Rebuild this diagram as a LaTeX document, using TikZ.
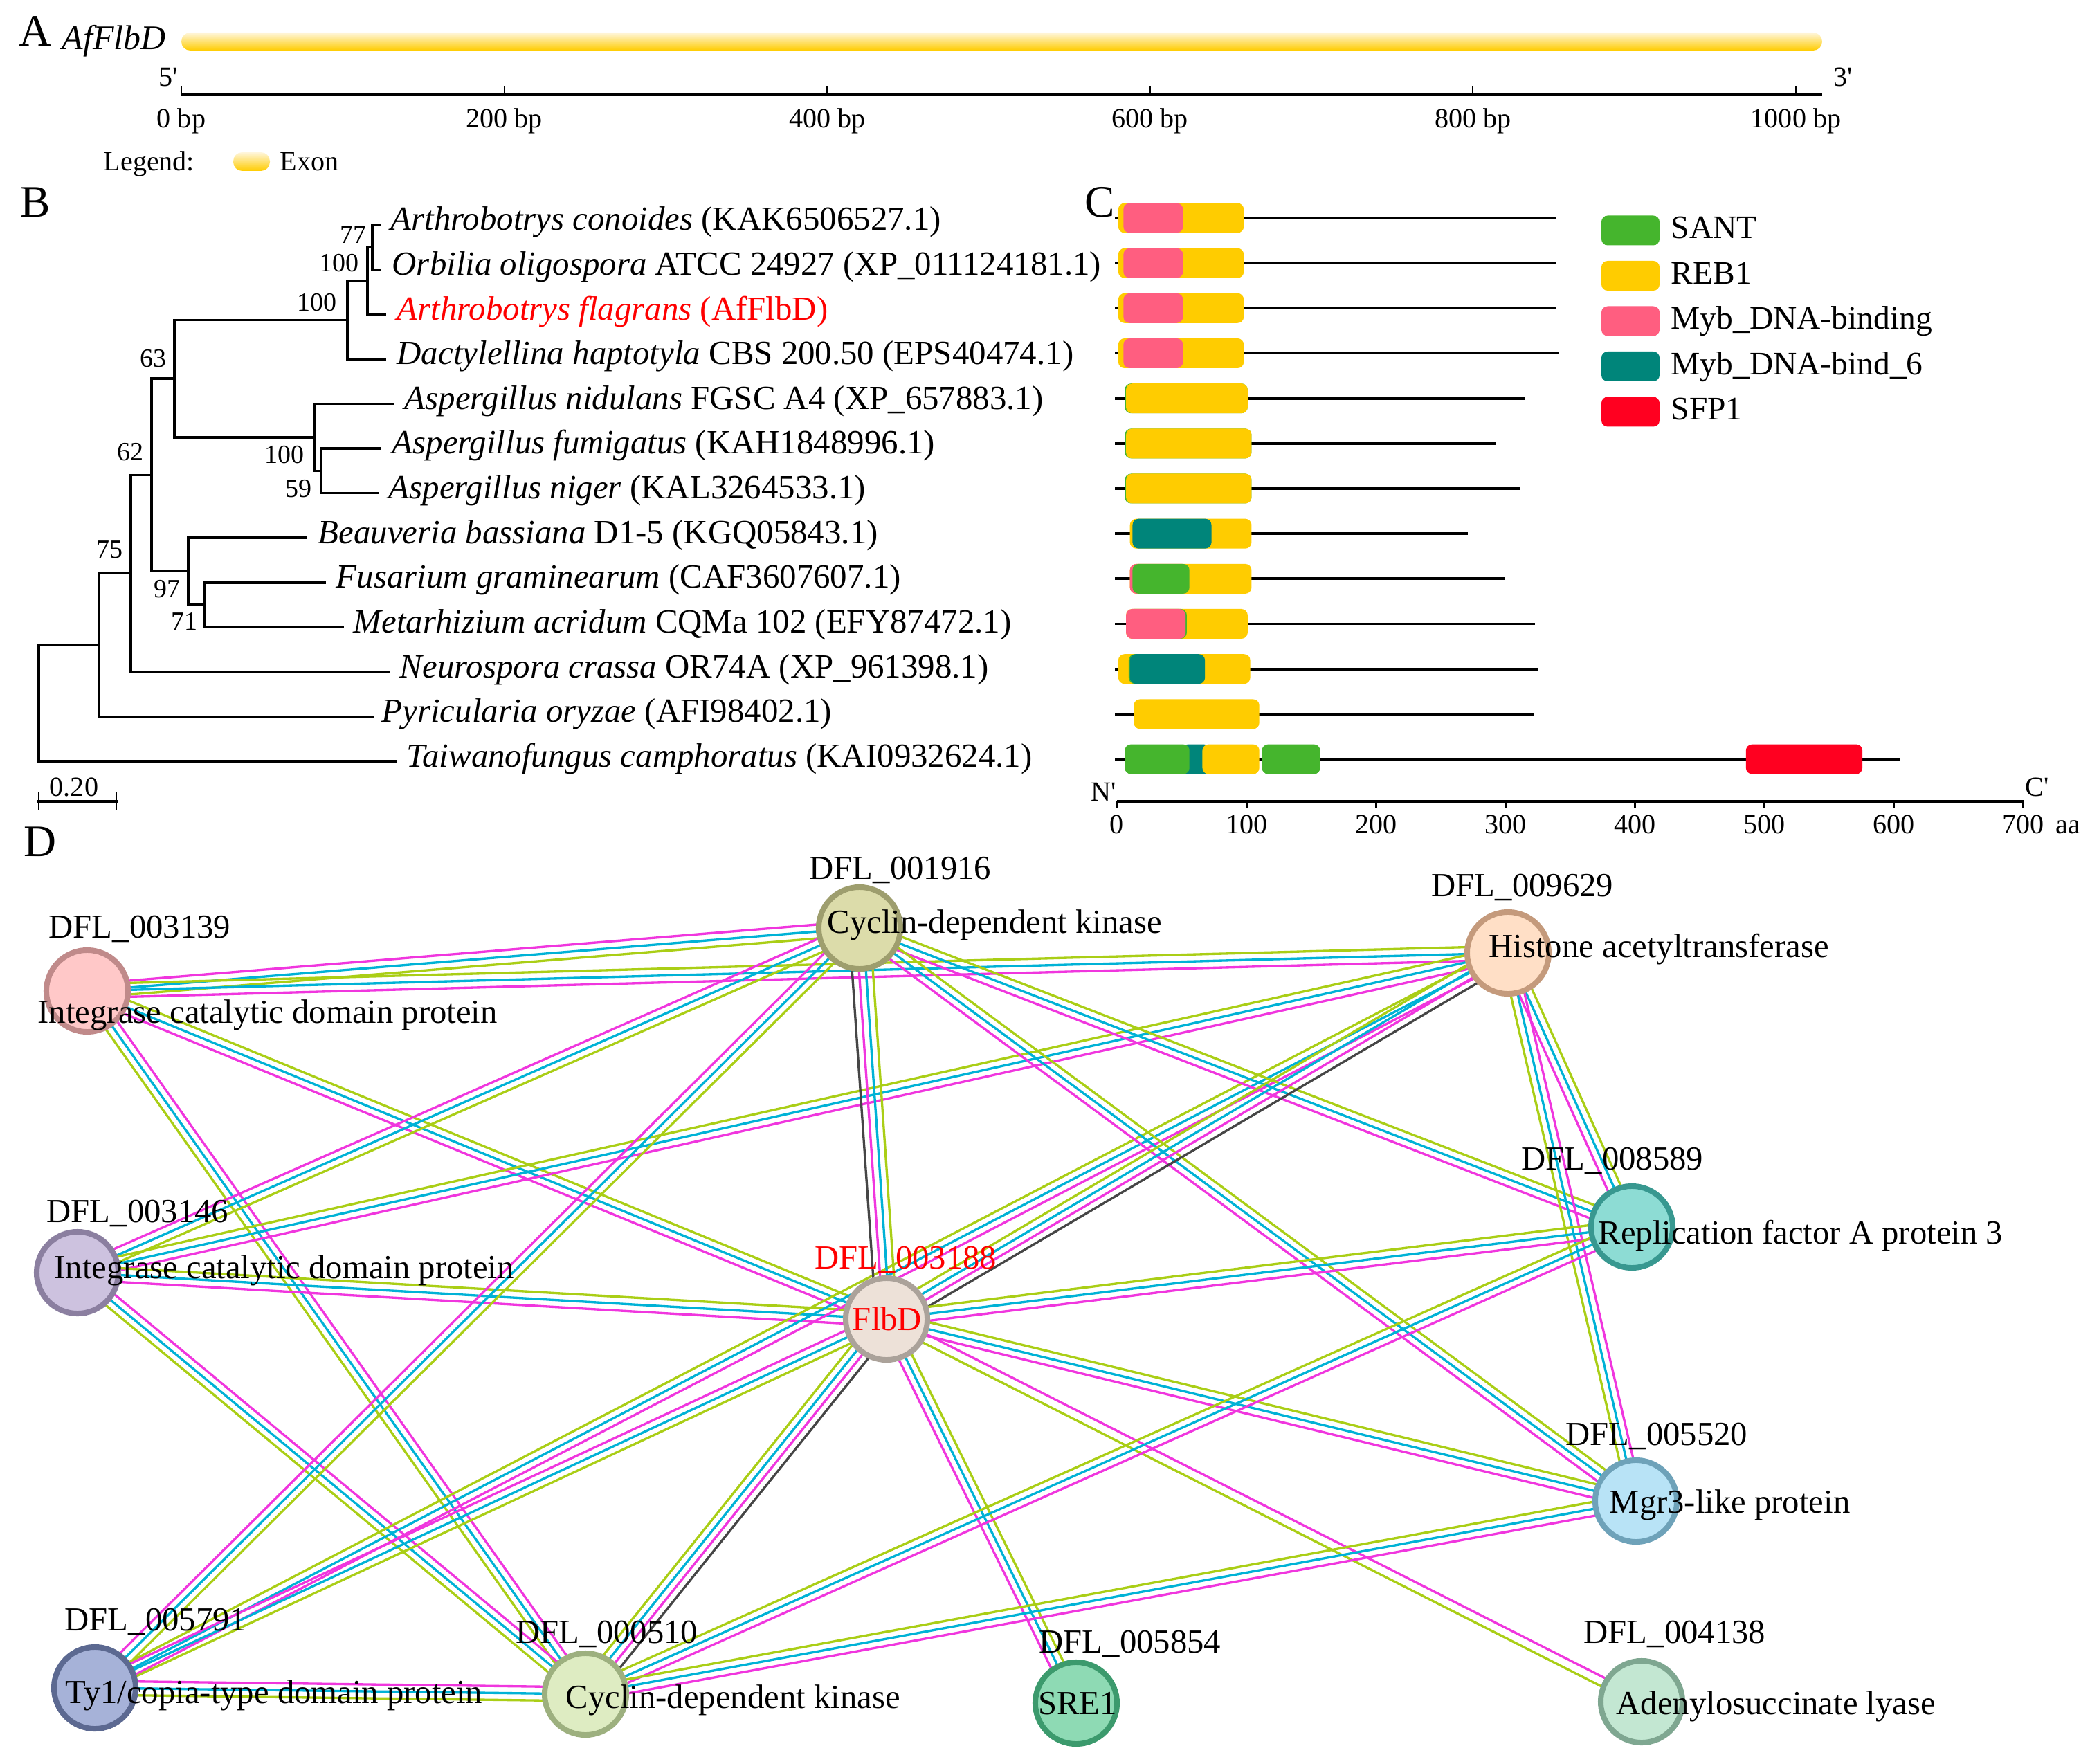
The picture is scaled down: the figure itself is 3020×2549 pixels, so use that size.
\documentclass[tikz,border=0pt]{standalone}
\usepackage{fontspec}
\setmainfont{Liberation Serif}
\usetikzlibrary{calc}
\pgfdeclarelayer{bg}
\pgfsetlayers{bg,main}
\definecolor{sgreen}{RGB}{170,206,22}
\definecolor{scyan}{RGB}{0,178,214}
\definecolor{smag}{RGB}{240,54,222}
\definecolor{sblk}{RGB}{70,70,70}
\definecolor{cSANT}{RGB}{69,181,45}
\definecolor{cREB}{RGB}{255,204,0}
\definecolor{cMyb}{RGB}{255,94,128}
\definecolor{cMybsix}{RGB}{0,133,122}
\definecolor{cSFP}{RGB}{255,0,32}
\definecolor{exonlight}{RGB}{255,246,220}
\definecolor{exondark}{RGB}{255,204,0}
\newcommand\fsL{\fontsize{18.5pt}{20pt}\selectfont}
\newcommand\fsA{\fontsize{11.4pt}{13pt}\selectfont}
\newcommand\fsG{\fontsize{14.2pt}{16pt}\selectfont}
\newcommand\fsT{\fontsize{13.9pt}{16pt}\selectfont}
\newcommand\fsS{\fontsize{10.8pt}{12pt}\selectfont}
\newcommand\fsC{\fontsize{13.5pt}{15pt}\selectfont}
\newcommand\fsD{\fontsize{13.85pt}{16pt}\selectfont}
\newcommand\qs{\textquotesingle}
\tikzset{
  txt/.style={inner sep=0pt, anchor=base west},
  ctxt/.style={inner sep=0pt, anchor=base},
  tree/.style={line width=1pt, line cap=rect},
  protline/.style={line width=1.1pt},
  edgeline/.style={line width=0.95pt},
  gr/.style={draw=sgreen}, cy/.style={draw=scyan}, mg/.style={draw=smag}, bk/.style={draw=sblk},
  pnode/.style={circle, minimum size=1.18cm, inner sep=0pt, line width=0.08cm},
  idl/.style={txt, font=\fsD},
  dsc/.style={txt, font=\fsD},
}
\newcommand\bundle[3]{\foreach \col/\off in {#3}{\draw[edgeline,\col] ($(#1)!\off!90:(#2)$) -- ($(#2)!\off!-90:(#1)$);}}
\newcommand\prot[2]{\draw[protline] (1611,#2) -- ({1614+1.87*#1},#2);}
\newcommand\dom[4]{\fill[#1, rounded corners=0.09cm] ({1614+1.87*#2},{#4-21.5}) rectangle ({1614+1.87*#3},{#4+21.5});}
\begin{document}
\begin{tikzpicture}[x=0.01cm,y=-0.01cm]
\useasboundingbox (0,0) rectangle (3020,2549);
% ---------------- Panel A
\node[txt, font=\fsL] (pA) at (27,67) {A};
\node[txt, font=\fsG] (gene) at (89,72) {\itshape AfFlbD};
\shade[top color=exonlight, bottom color=exondark, rounded corners=0.13cm] (262,47) rectangle (2633,73);
\draw[line width=1.15pt] (262,137) -- (2633,137);
\foreach \i/\t in {0/0 bp,1/200 bp,2/400 bp,3/600 bp,4/800 bp,5/1000 bp}{
  \draw[line width=0.6pt] ({262+466.6*\i},137) -- ({262+466.6*\i},124);
  \node[ctxt, font=\fsA] (ax\i) at ({262+466.6*\i},185) {\t};
}
\node[inner sep=0pt, anchor=base east, font=\fsA] (five) at (257,125) {5\qs};
\node[txt, font=\fsA] (three) at (2649,125) {3\qs};
\node[txt, font=\fsA] (leg) at (149,247) {Legend:};
\shade[top color=exonlight, bottom color=exondark, rounded corners=0.13cm] (337,220) rectangle (390,247);
\node[txt, font=\fsA] (exon) at (404,247) {Exon};
% ---------------- Panel B
\node[txt, font=\fsL] (pB) at (29,314) {B};
\draw[tree] (548,325) -- (538,325) -- (538,389.6) -- (548,389.6);
\draw[tree] (538,357.3) -- (531,357.3) -- (531,454.2) -- (556,454.2);
\draw[tree] (531,405.75) -- (502,405.75) -- (502,518.8) -- (556,518.8);
\draw[tree] (548,648) -- (464,648) -- (464,712.6) -- (546,712.6);
\draw[tree] (568,583.4) -- (454,583.4) -- (454,680.3) -- (464,680.3);
\draw[tree] (502,462.3) -- (252,462.3) -- (252,631.85) -- (454,631.85);
\draw[tree] (469,841.8) -- (296,841.8) -- (296,906.4) -- (495,906.4);
\draw[tree] (441,777.2) -- (272,777.2) -- (272,874.1) -- (296,874.1);
\draw[tree] (252,547) -- (219,547) -- (219,825.65) -- (272,825.65);
\draw[tree] (219,686.3) -- (189,686.3) -- (189,971) -- (561,971);
\draw[tree] (189,828.65) -- (143,828.65) -- (143,1035.6) -- (538,1035.6);
\draw[tree] (143,932.1) -- (56,932.1) -- (56,1100.2) -- (571,1100.2);
\begin{scope}[every node/.style={txt, font=\fsT}]
\node (t1) at (564,333) {\textit{Arthrobotrys conoides} (KAK6506527.1)};
\node (t2) at (566,397.6) {\textit{Orbilia oligospora} ATCC 24927 (XP\_011124181.1)};
\node[text=red] (t3) at (573,462.2) {\textit{Arthrobotrys flagrans} (AfFlbD)};
\node (t4) at (573,526.8) {\textit{Dactylellina haptotyla} CBS 200.50 (EPS40474.1)};
\node (t5) at (584,591.4) {\textit{Aspergillus nidulans} FGSC A4 (XP\_657883.1)};
\node (t6) at (566,656) {\textit{Aspergillus fumigatus} (KAH1848996.1)};
\node (t7) at (561,720.6) {\textit{Aspergillus niger} (KAL3264533.1)};
\node (t8) at (459,785.2) {\textit{Beauveria bassiana} D1-5 (KGQ05843.1)};
\node (t9) at (485,849.8) {\textit{Fusarium graminearum} (CAF3607607.1)};
\node (t10) at (510,914.4) {\textit{Metarhizium acridum} CQMa 102 (EFY87472.1)};
\node (t11) at (577,979) {\textit{Neurospora crassa} OR74A (XP\_961398.1)};
\node (t12) at (551,1043.6) {\textit{Pyricularia oryzae} (AFI98402.1)};
\node (t13) at (587,1108.2) {\textit{Taiwanofungus camphoratus} (KAI0932624.1)};
\end{scope}
\begin{scope}[every node/.style={ctxt, font=\fsS}]
\node (b1) at (510,352) {77};
\node (b2) at (490,393) {100};
\node (b3) at (458,450) {100};
\node (b4) at (221,531) {63};
\node (b5) at (411,670) {100};
\node (b6) at (431,719) {59};
\node (b7) at (188,666) {62};
\node (b8) at (158,807) {75};
\node (b9) at (241,864) {97};
\node (b10) at (266,911) {71};
\end{scope}
\draw[tree] (56,1158) -- (168,1158);
\draw[line width=0.8pt] (56,1145) -- (56,1170) (168,1145) -- (168,1170);
\node[ctxt, font=\fsA] (sc) at (107,1150) {0.20};
% ---------------- Panel C
\node[txt, font=\fsL] (pC) at (1567,314) {C};
\foreach \y/\l in {315/339,380.2/339,445.3/339,510.5/341}{
  \prot{\l}{\y}
  \dom{cREB}{1}{98}{\y}
  \dom{cMyb}{5}{51}{\y}
}
\foreach \y/\l/\e in {575.7/315/101,640.9/293/104,706.0/311/104}{
  \prot{\l}{\y}
  \dom{cSANT}{6}{\e}{\y}
  \dom{cREB}{7}{\e}{\y}
}
\prot{271}{771.2}
\dom{cREB}{10}{104}{771.2}
\dom{cMybsix}{12}{73}{771.2}
\prot{300}{836.4}
\dom{cREB}{10}{104}{836.4}
\dom{cMyb}{10}{55}{836.4}
\dom{cSANT}{12}{56}{836.4}
\prot{323}{901.5}
\dom{cREB}{7}{101}{901.5}
\dom{cSANT}{8}{54}{901.5}
\dom{cMyb}{7}{53}{901.5}
\prot{325}{966.7}
\dom{cREB}{1}{103}{966.7}
\dom{cSANT}{9}{60}{966.7}
\dom{cMybsix}{10}{68}{966.7}
\prot{322}{1031.9}
\dom{cREB}{13}{110}{1031.9}
\prot{605}{1097.1}
\dom{cMybsix}{50}{72}{1097.1}
\dom{cREB}{66}{110}{1097.1}
\dom{cSANT}{6}{56}{1097.1}
\dom{cSANT}{112}{157}{1097.1}
\dom{cSFP}{486}{576}{1097.1}
\foreach \c/\t/\yc [count=\k] in {cSANT/SANT/333,cREB/REB1/398.5,cMyb/Myb\_DNA-binding/464,cMybsix/Myb\_DNA-bind\_6/529.5,cSFP/SFP1/595}{
  \fill[\c, rounded corners=0.09cm] (2314,{\yc-21.5}) rectangle (2398,{\yc+21.5});
  \node[txt, font=\fsC] (lg\k) at (2414,{\yc+12}) {\t};
}
\draw[protline] (1614,1158) -- (2924,1158);
\foreach \k in {0,...,7}{
  \draw[line width=0.8pt] ({1614+187.1*\k},1158) -- ({1614+187.1*\k},1167);
  \node[ctxt, font=\fsA] (cx\k) at ({1614+187.1*\k},1205) {\the\numexpr\k*100\relax};
}
\node[txt, font=\fsA] (aa) at (2970,1205) {aa};
\node[txt, font=\fsA] (nterm) at (1576,1157) {N\qs};
\node[txt, font=\fsA] (cterm) at (2926,1150) {C\qs};
% ---------------- Panel D
\node[txt, font=\fsL] (pD) at (34,1238) {D};
\node[pnode, fill={rgb,255:red,255;green,200;blue,200}, draw={rgb,255:red,192;green,138;blue,138}] (nA) at (126,1432) {};
\node[pnode, fill={rgb,255:red,220;green,220;blue,170}, draw={rgb,255:red,158;green,158;blue,110}] (nB) at (1242,1341) {};
\node[pnode, fill={rgb,255:red,255;green,223;blue,198}, draw={rgb,255:red,196;green,154;blue,124}] (nC) at (2179,1377) {};
\node[pnode, fill={rgb,255:red,205;green,194;blue,223}, draw={rgb,255:red,139;green,127;blue,160}] (nD) at (112,1839) {};
\node[pnode, fill={rgb,255:red,237;green,225;blue,216}, draw={rgb,255:red,171;green,162;blue,154}] (nE) at (1281,1906) {};
\node[pnode, fill={rgb,255:red,141;green,220;blue,212}, draw={rgb,255:red,56;green,152;blue,144}] (nF) at (2358,1773) {};
\node[pnode, fill={rgb,255:red,184;green,227;blue,246}, draw={rgb,255:red,110;green,162;blue,185}] (nG) at (2364,2169) {};
\node[pnode, fill={rgb,255:red,166;green,178;blue,216}, draw={rgb,255:red,92;green,105;blue,145}] (nH) at (137,2439) {};
\node[pnode, fill={rgb,255:red,222;green,236;blue,194}, draw={rgb,255:red,157;green,176;blue,127}] (nI) at (846,2448) {};
\node[pnode, fill={rgb,255:red,142;green,218;blue,180}, draw={rgb,255:red,60;green,154;blue,109}] (nJ) at (1555,2461) {};
\node[pnode, fill={rgb,255:red,195;green,231;blue,210}, draw={rgb,255:red,127;green,167;blue,145}] (nK) at (2372,2459) {};
\begin{pgfonlayer}{bg}
\bundle{nA}{nB}{mg/0.1cm,cy/0cm,gr/-0.1cm}
\bundle{nA}{nC}{gr/0.1cm,cy/0cm,mg/-0.1cm}
\bundle{nA}{nE}{gr/0.1cm,cy/0cm,mg/-0.1cm}
\bundle{nA}{nI}{mg/0.1cm,cy/0cm,gr/-0.1cm}
\bundle{nD}{nB}{mg/0.1cm,cy/0cm,gr/-0.1cm}
\bundle{nD}{nC}{gr/0.1cm,cy/0cm,mg/-0.1cm}
\bundle{nD}{nE}{gr/0.1cm,cy/0cm,mg/-0.1cm}
\bundle{nD}{nI}{mg/0.1cm,cy/0cm,gr/-0.1cm}
\bundle{nH}{nB}{mg/0.1cm,cy/0cm,gr/-0.1cm}
\bundle{nH}{nC}{gr/0.1cm,cy/0cm,mg/-0.1cm}
\bundle{nH}{nE}{mg/0.1cm,cy/0cm,gr/-0.1cm}
\bundle{nH}{nI}{mg/0.1cm,cy/0cm,gr/-0.1cm}
\bundle{nB}{nE}{gr/0.15cm,cy/0.05cm,mg/-0.05cm,bk/-0.15cm}
\bundle{nB}{nF}{gr/0.1cm,cy/0cm,mg/-0.1cm}
\bundle{nB}{nG}{gr/0.1cm,cy/0cm,mg/-0.1cm}
\bundle{nC}{nF}{gr/0.1cm,cy/0cm,mg/-0.1cm}
\bundle{nC}{nG}{mg/0.1cm,cy/0cm,gr/-0.1cm}
\bundle{nE}{nC}{gr/0.15cm,cy/0.05cm,mg/-0.05cm,bk/-0.15cm}
\bundle{nE}{nF}{gr/0.1cm,cy/0cm,mg/-0.1cm}
\bundle{nE}{nG}{gr/0.1cm,cy/0cm,mg/-0.1cm}
\bundle{nE}{nK}{mg/0.065cm,gr/-0.065cm}
\bundle{nE}{nJ}{gr/0.1cm,cy/0cm,mg/-0.1cm}
\bundle{nI}{nE}{gr/0.15cm,cy/0.05cm,mg/-0.05cm,bk/-0.15cm}
\bundle{nI}{nF}{gr/0.1cm,cy/0cm,mg/-0.1cm}
\bundle{nI}{nG}{gr/0.1cm,cy/0cm,mg/-0.1cm}
\end{pgfonlayer}
\node[idl] (idA) at (70,1355) {DFL\_003139};
\node[idl] (idB) at (1169,1270) {DFL\_001916};
\node[idl] (idC) at (2068,1295) {DFL\_009629};
\node[idl] (idD) at (67,1766) {DFL\_003146};
\node[idl, text=red] (idE) at (1177,1833) {DFL\_003188};
\node[idl] (idF) at (2198,1690) {DFL\_008589};
\node[idl] (idG) at (2262,2088) {DFL\_005520};
\node[idl] (idH) at (93,2356) {DFL\_005791};
\node[idl] (idI) at (745,2374) {DFL\_000510};
\node[idl] (idJ) at (1501,2388) {DFL\_005854};
\node[idl] (idK) at (2288,2374) {DFL\_004138};
\node[dsc] (dA) at (54,1478) {Integrase catalytic domain protein};
\node[dsc] (dB) at (1195,1348) {Cyclin-dependent kinase};
\node[dsc] (dC) at (2151,1383) {Histone acetyltransferase};
\node[dsc] (dD) at (78,1847) {Integrase catalytic domain protein};
\node[ctxt, font=\fsD, text=red] (dE) at (1282,1922) {FlbD};
\node[dsc] (dF) at (2309,1797) {Replication factor A protein 3};
\node[dsc] (dG) at (2325,2186) {Mgr3-like protein};
\node[dsc] (dH) at (94,2461) {Ty1/copia-type domain protein};
\node[dsc] (dI) at (817,2468) {Cyclin-dependent kinase};
\node[ctxt, font=\fsD] (dJ) at (1557,2477) {SRE1};
\node[dsc] (dK) at (2335,2477) {Adenylosuccinate lyase};
\end{tikzpicture}
\end{document}
